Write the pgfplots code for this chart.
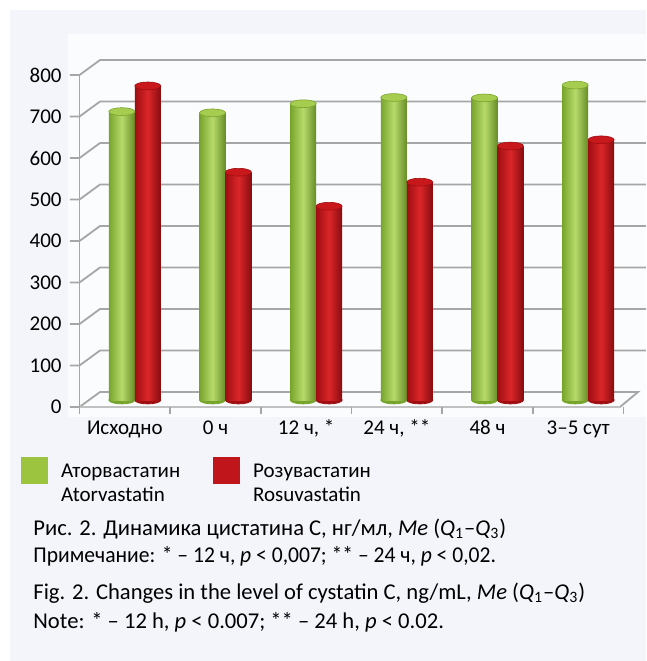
\documentclass[border=0pt]{standalone}
\usepackage{fontspec}
\setmainfont{Carlito}
\usepackage{pgfplots}
\pgfplotsset{compat=1.18}
\definecolor{panel}{HTML}{F3F5FA}
\definecolor{gridc}{HTML}{A6A6A6}
\definecolor{gdark}{HTML}{77A52C}
\definecolor{glight}{HTML}{B8DA6C}
\definecolor{gtop}{HTML}{A6CC50}
\definecolor{rdark}{HTML}{A00E12}
\definecolor{rlight}{HTML}{DA2629}
\definecolor{rtop}{HTML}{C8181C}
\definecolor{gleg}{HTML}{9CC43F}
\definecolor{rleg}{HTML}{C0161B}
\newcommand\fs{\fontsize{10.5}{12}\selectfont}
\newcommand\fc{\fontsize{11.3}{13}\selectfont}
\pgfplotsset{
  cyl/.style={forget plot, ybar, bar width=13pt, bar shift=0pt, draw=none},
  gcyl/.style={cyl, left color=gdark, right color=gdark!85!black, middle color=glight},
  rcyl/.style={cyl, left color=rdark, right color=rdark!85!black, middle color=rlight},
  cap/.style={forget plot, only marks, mark=*, mark size=6.5pt},
}
\begin{document}
\begin{tikzpicture}
\begin{scope}[x=0.5pt,y=-0.5pt]
\fill[white] (0,0) rectangle (646,661);
\fill[panel] (10,10) rectangle (646,661);
\fill[white!70!panel] (68,34) rectangle (646,417);
\end{scope}
\begin{axis}[
  clip marker paths=true,
  at={(44.75pt,-200pt)}, anchor=south west,
  scale only axis, width=272pt, height=166pt,
  xmin=-0.5, xmax=5.5, ymin=0, ymax=800,
  clip=false,
  axis line style={draw=none},
  tick style={draw=none},
  major tick length=0pt,
  ytick={0,100,...,800},
  xtick={0,...,5},
  xticklabels={Исходно, 0 ч, {12 ч, *}, {24 ч, **}, 48 ч, 3–5 сут},
  /pgf/number format/assume math mode=true,
  ticklabel style={font=\fs},
  yticklabel style={anchor=east, inner sep=0pt, xshift=-13.75pt, yshift=-3.5pt},
  xticklabel style={anchor=base, inner sep=0pt, xshift=-5pt, yshift=-17pt},
  legend columns=2,
  legend image code/.code={\fill[#1] (0pt,-3pt) rectangle (13pt,10pt);},
  legend style={at={(-0.126,-0.169)}, anchor=north west, draw=none, fill=none,
    font=\fs, inner sep=0pt,
    /tikz/every odd column/.append style={column sep=4.5pt},
    /tikz/every even column/.append style={column sep=14.5pt}},
]
% 3D frame
\pgfplotsinvokeforeach{100,200,...,800}{
  \draw[gridc, line width=0.9pt]
    ([shift={(-9.75pt,-3.5pt)}]axis cs:-0.5,#1) --
    ([shift={(-5pt,-3.5pt)}]axis cs:-0.5,#1) --
    ([shift={(5.25pt,4pt)}]axis cs:-0.5,#1) --
    ([shift={(6.25pt,4pt)}]axis cs:5.5,#1);
}
\draw[gridc, line width=0.9pt]
  ([shift={(-9.75pt,-3.5pt)}]axis cs:-0.5,0) --
  ([shift={(-5pt,-3.5pt)}]axis cs:-0.5,0) --
  ([shift={(5.25pt,4pt)}]axis cs:-0.5,0) --
  ([shift={(2.25pt,4pt)}]axis cs:5.5,0) --
  ([shift={(-6.75pt,-3.5pt)}]axis cs:5.5,0);
\draw[gridc!70, line width=0.9pt]
  ([shift={(-5pt,-3.5pt)}]axis cs:-0.5,0) -- ([shift={(-6.75pt,-3.5pt)}]axis cs:5.5,0);
\draw[gridc, line width=0.9pt]
  ([shift={(-5pt,-3.5pt)}]axis cs:-0.5,800) -- ([shift={(-5pt,-5pt)}]axis cs:-0.5,0);
\pgfplotsinvokeforeach{-0.5,0.5,...,5.5}{
  \draw[gridc, line width=0.9pt]
    ([shift={(-5pt,-3.5pt)}]axis cs:#1,0) -- ([shift={(-5pt,-7pt)}]axis cs:#1,0);
}
\addlegendimage{gleg}
\addlegendentry{\begin{tabular}{@{}l@{}}Аторвастатин\\Atorvastatin\end{tabular}}
\addlegendimage{rleg}
\addlegendentry{\begin{tabular}{@{}l@{}}Розувастатин\\Rosuvastatin\end{tabular}}
% bottoms of the cylinders
\addplot[cap, color=gdark, mark options={yscale=0.3, fill=gdark, draw=gdark}]
  coordinates {(-0.143,0) (0.857,0) (1.857,0) (2.857,0) (3.857,0) (4.857,0)};
\addplot[cap, color=rdark, mark options={yscale=0.3, fill=rdark, draw=rdark}]
  coordinates {(0.143,0) (1.143,0) (2.143,0) (3.143,0) (4.143,0) (5.143,0)};
% Atorvastatin
\addplot[gcyl] coordinates {(-0.143,695)};
\addplot[gcyl] coordinates {(0.857,692)};
\addplot[gcyl] coordinates {(1.857,714)};
\addplot[gcyl] coordinates {(2.857,729)};
\addplot[gcyl] coordinates {(3.857,728)};
\addplot[gcyl] coordinates {(4.857,759)};
% Rosuvastatin
\addplot[rcyl] coordinates {(0.143,757)};
\addplot[rcyl] coordinates {(1.143,549)};
\addplot[rcyl] coordinates {(2.143,467)};
\addplot[rcyl] coordinates {(3.143,525)};
\addplot[rcyl] coordinates {(4.143,612)};
\addplot[rcyl] coordinates {(5.143,627)};
% tops
\addplot[cap, color=gdark, mark options={yscale=0.3, fill=gtop, draw=gdark, line width=0.3pt}]
  coordinates {(-0.143,695) (0.857,692) (1.857,714) (2.857,729) (3.857,728) (4.857,759)};
\addplot[cap, color=rdark, mark options={yscale=0.3, fill=rtop, draw=rdark, line width=0.3pt}]
  coordinates {(0.143,757) (1.143,549) (2.143,467) (3.143,525) (4.143,612) (5.143,627)};
\end{axis}
\begin{scope}[x=0.5pt,y=-0.5pt]
\node[anchor=base west, inner sep=0pt, font=\fc] at (33,535)
  {Рис. 2. Динамика цистатина С, нг/мл, \textit{Me} (\textit{Q}\textsubscript{1}–\textit{Q}\textsubscript{3})};
\node[anchor=base west, inner sep=0pt, font=\fc, xscale=0.955, transform shape] at (33,562)
  {Примечание: * – 12 ч, \textit{p} < 0,007; ** – 24 ч, \textit{p} < 0,02.};
\node[anchor=base west, inner sep=0pt, font=\fc] at (33,599)
  {Fig. 2. Changes in the level of cystatin C, ng/mL, \textit{Me} (\textit{Q}\textsubscript{1}–\textit{Q}\textsubscript{3})};
\node[anchor=base west, inner sep=0pt, font=\fc] at (33,628)
  {Note: * – 12 h, \textit{p} < 0.007; ** – 24 h, \textit{p} < 0.02.};
\end{scope}
\end{tikzpicture}
\end{document}
